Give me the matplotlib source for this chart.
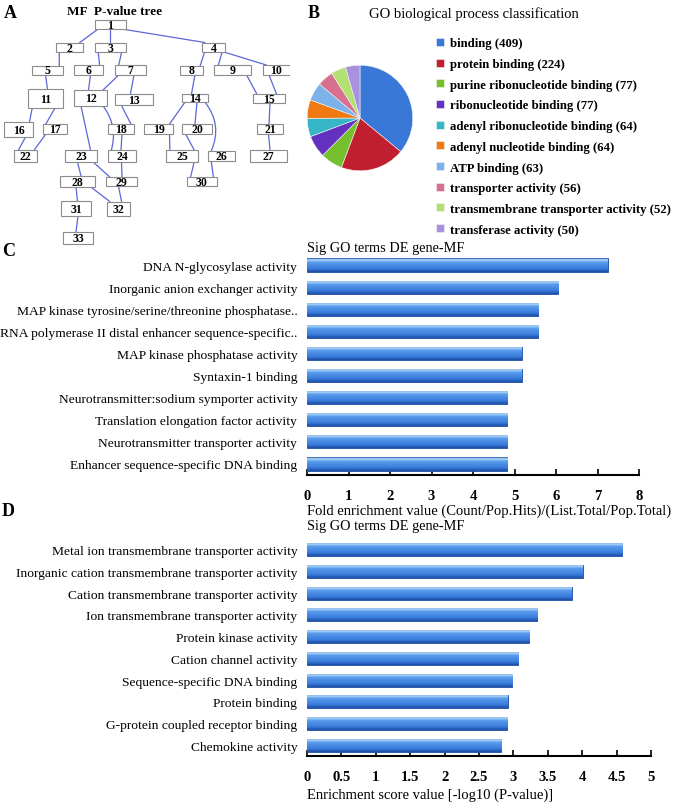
import numpy as np
import matplotlib
matplotlib.use("Agg")
import matplotlib.pyplot as plt
from matplotlib.patches import Rectangle, PathPatch
from matplotlib.path import Path
from matplotlib.colors import LinearSegmentedColormap

plt.rcParams['font.family'] = ['Liberation Serif', 'DejaVu Serif']

# ---- data ----
# A: P-value tree, node -> (cx, cy, w, h) in panel pixels
tree_nodes = {
    1: (110, 25.5, 31, 9), 2: (69.5, 48, 27, 9), 3: (110, 48, 31, 9),
    4: (213.5, 48, 23, 9), 5: (47.5, 71, 31, 9), 6: (88.5, 71, 29, 10),
    7: (130.5, 71, 31, 10), 8: (191.5, 71, 23, 9), 9: (232.5, 71, 37, 10),
    10: (276.5, 71, 27, 10), 11: (45.5, 99.5, 35, 19), 12: (90.5, 99, 33, 16),
    13: (134, 100, 38, 11), 14: (195, 99, 26, 8), 15: (269, 99.5, 32, 9),
    16: (18.5, 130.5, 29, 15), 17: (55, 130, 24, 10), 18: (121, 130, 26, 10),
    19: (158.5, 130, 29, 10), 20: (197, 130, 30, 10), 21: (270, 130, 26, 10),
    22: (25.5, 157, 23, 12), 23: (81, 157, 32, 12), 24: (122, 157, 28, 12),
    25: (182, 157, 32, 12), 26: (221.5, 157, 27, 10), 27: (268.5, 157, 37, 12),
    28: (77.5, 182.5, 35, 11), 29: (121.5, 182.5, 31, 9), 30: (202, 182.5, 30, 9),
    31: (76, 209.5, 30, 15), 32: (118.5, 209.5, 23, 14), 33: (78, 239, 30, 12),
}
tree_edges = [(1, 2), (1, 3), (1, 4), (2, 5), (3, 6), (3, 7), (4, 8), (4, 9),
              (4, 10), (5, 11), (6, 12), (7, 12), (7, 13), (8, 14), (9, 15),
              (10, 15), (11, 16), (11, 17), (16, 22), (17, 22), (12, 23),
              (13, 18), (18, 24), (14, 19), (14, 20), (19, 25), (20, 25),
              (15, 21), (21, 27), (23, 28), (23, 29), (24, 29), (25, 30),
              (26, 30), (28, 31), (28, 32), (29, 32), (31, 33)]
tree_curved = [(12, 24, -0.25), (14, 26, -0.3)]

# B: pie
pie_labels = ['binding', 'protein binding', 'purine ribonucleotide binding',
              'ribonucleotide binding', 'adenyl ribonucleotide binding',
              'adenyl nucleotide binding', 'ATP binding', 'transporter activity',
              'transmembrane transporter activity', 'transferase activity']
pie_counts = [409, 224, 77, 77, 64, 64, 63, 56, 52, 50]
pie_colors = ['#3a78d8', '#c01f30', '#76c02e', '#6430c0', '#36b6c6',
              '#f07a12', '#7cb2ea', '#d6708e', '#b2e072', '#a892e0']

# C: fold enrichment
c_terms = ['DNA N-glycosylase activity', 'Inorganic anion exchanger activity',
           'MAP kinase tyrosine/serine/threonine phosphatase..',
           'RNA polymerase II distal enhancer sequence-specific..',
           'MAP kinase phosphatase activity', 'Syntaxin-1 binding',
           'Neurotransmitter:sodium symporter activity',
           'Translation elongation factor activity',
           'Neurotransmitter transporter activity',
           'Enhancer sequence-specific DNA binding']
c_values = [7.25, 6.05, 5.57, 5.57, 5.18, 5.18, 4.82, 4.82, 4.82, 4.82]

# D: enrichment score
d_terms = ['Metal ion transmembrane transporter activity',
           'Inorganic cation transmembrane transporter activity',
           'Cation transmembrane transporter activity',
           'Ion transmembrane transporter activity', 'Protein kinase activity',
           'Cation channel activity', 'Sequence-specific DNA binding',
           'Protein binding', 'G-protein coupled receptor binding',
           'Chemokine activity']
d_values = [4.58, 4.01, 3.85, 3.35, 3.23, 3.07, 2.98, 2.92, 2.91, 2.82]

W, H = 677, 804
fig = plt.figure(figsize=(W / 100, H / 100), dpi=100)


def px_axes(left, top, width, height):
    return fig.add_axes([left / W, 1 - (top + height) / H, width / W, height / H])


# ---- A: tree ----
axA = px_axes(0, 0, 290, 250)
axA.set_xlim(0, 290)
axA.set_ylim(250, 0)
axA.axis('off')
edge_col = '#5a68d6'


def ends(a, b):
    px, py, pw, ph = tree_nodes[a]
    cx, cy, cw, ch = tree_nodes[b]
    sx = px + np.clip(cx - px, -0.38 * pw, 0.38 * pw)
    ex = cx + np.clip(px - cx, -0.38 * cw, 0.38 * cw)
    return (sx, py + ph / 2), (ex, cy - ch / 2)


for a, b in tree_edges:
    (x0, y0), (x1, y1) = ends(a, b)
    axA.plot([x0, x1], [y0, y1], color=edge_col, lw=0.9, zorder=1)
for a, b, rad in tree_curved:
    (x0, y0), (x1, y1) = ends(a, b)
    mx, my = (x0 + x1) / 2, (y0 + y1) / 2
    dx, dy = x1 - x0, y1 - y0
    ctrl = (mx - rad * dy, my + rad * dx)
    path = Path([(x0, y0), ctrl, (x1, y1)], [Path.MOVETO, Path.CURVE3, Path.CURVE3])
    axA.add_patch(PathPatch(path, fc='none', ec=edge_col, lw=0.9, zorder=1))
for n, (cx, cy, w, h) in tree_nodes.items():
    axA.add_patch(Rectangle((cx - w / 2, cy - h / 2), w, h, fc='white',
                            ec='#8c8c8c', lw=0.8, zorder=2))
    axA.text(cx, cy + 0.5, str(n), ha='center', va='center', fontsize=8.5,
             fontweight='bold', zorder=3)
axA.text(115, 12, 'MF  P-value tree', ha='center', va='center', fontsize=9.5,
         fontweight='bold')

# ---- B: pie ----
axB = px_axes(294, 53, 132, 132)
wedges, _ = axB.pie(pie_counts, colors=pie_colors, startangle=90,
                    counterclock=False, radius=1,
                    wedgeprops=dict(edgecolor='#f4f4f4', linewidth=0.4))
axB.set_aspect('equal')
leg_labels = ['%s (%d)' % (l, c) for l, c in zip(pie_labels, pie_counts)]
fig.legend(wedges, leg_labels, loc='upper left',
           bbox_to_anchor=(430 / W, 1 - 32 / H), frameon=False, borderpad=0,
           prop=dict(family='Liberation Serif', weight='bold', size=9.2),
           handlelength=0.6, handleheight=0.6, handletextpad=0.45,
           labelspacing=0.68)
fig.text(474 / W, 1 - 14 / H, 'GO biological process classification',
         ha='center', va='center', fontsize=10.5)

# ---- C & D: bars ----
bar_cmap = LinearSegmentedColormap.from_list(
    'bar', [(0, '#1e55b4'), (0.12, '#b8dcfb'), (0.3, '#5a9cec'),
            (0.75, '#3a7ddc'), (1, '#1d4ea6')])


def bar_panel(ax, terms, values, xmax, ticks, ticklabels, xlabel,
              title_pad, label_pad):
    n = len(terms)
    y = np.arange(n)[::-1]
    bars = ax.barh(y, values, height=0.6, color='#3a7ddc', edgecolor='#1d4ea6',
                   linewidth=0.6, zorder=2)
    grad = np.linspace(0, 1, 64).reshape(-1, 1)
    for b in bars:
        bx, by = b.get_x(), b.get_y()
        im = ax.imshow(grad, cmap=bar_cmap, aspect='auto', origin='lower',
                       extent=(bx, bx + b.get_width(), by + b.get_height(), by),
                       zorder=3)
        im.set_clip_path(b)
    ax.set_xlim(0, xmax)
    ax.set_ylim(-0.5, n - 0.5)
    ax.set_yticks(y)
    ax.set_yticklabels(terms, fontsize=9.7)
    ax.set_xticks(ticks)
    ax.set_xticklabels(ticklabels, fontsize=10.5, fontweight='bold')
    for s in ('top', 'right', 'left'):
        ax.spines[s].set_visible(False)
    ax.spines['bottom'].set_linewidth(1.5)
    ax.tick_params(axis='y', length=0, pad=7)
    ax.tick_params(axis='x', direction='in', length=4, width=1.2, pad=10)
    ax.set_title('Sig GO terms DE gene-MF', loc='left', fontsize=10.3,
                 pad=title_pad)
    ax.set_xlabel(xlabel, loc='left', fontsize=10.5, labelpad=label_pad)


axC = px_axes(307, 255, 332, 221)
bar_panel(axC, c_terms, c_values, 8, range(0, 9), [str(i) for i in range(9)],
          'Fold enrichment value (Count/Pop.Hits)/(List.Total/Pop.Total)',
          -1, 1.5)

axD = px_axes(307, 540, 344, 217)
d_ticks = np.arange(0, 5.01, 0.5)
bar_panel(axD, d_terms, d_values, 5, d_ticks, ['%g' % t for t in d_ticks],
          'Enrichment score value [-log10 (P-value)]', 7.5, 3)

# panel letters
for lab, x, y in [('A', 4, 13), ('B', 308, 13), ('C', 2, 252), ('D', 2, 512)]:
    fig.text(x / W, 1 - y / H, lab, fontsize=13, fontweight='bold', va='center')

fig.savefig('out.png', dpi=100)
